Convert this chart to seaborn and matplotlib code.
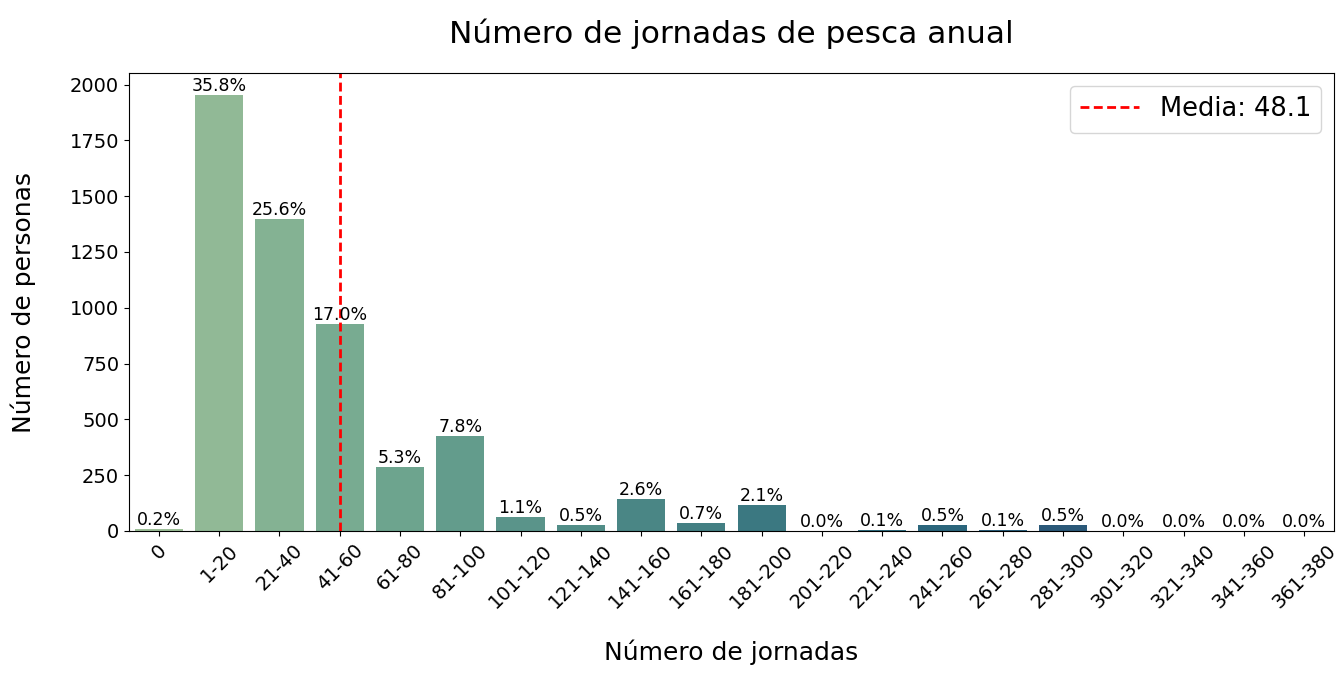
import matplotlib
matplotlib.use("Agg")
import seaborn as sns
import matplotlib.pyplot as plt
import pandas as pd

# Data
rangos = ["0", "1-20", "21-40", "41-60", "61-80", "81-100", "101-120",
          "121-140", "141-160", "161-180", "181-200", "201-220", "221-240",
          "241-260", "261-280", "281-300", "301-320", "321-340", "341-360",
          "361-380"]
personas = [10, 1955, 1398, 928, 287, 425, 62, 27, 143, 37, 115, 1, 6,
            27, 5, 28, 0, 0, 0, 0]
media = 48.1
rango_media = "41-60"


def main():
    df = pd.DataFrame({"rango": rangos, "personas": personas})
    total = df["personas"].sum()
    df["pct"] = df["personas"] / total * 100

    fig, ax = plt.subplots(figsize=(13.41, 6.73), dpi=100)
    fig.subplots_adjust(left=0.096, right=0.995, top=0.891, bottom=0.211)

    sns.barplot(data=df, x="rango", y="personas", hue="rango",
                palette="crest", legend=False, ax=ax)

    # Percentage labels on top of each bar
    for i, (h, p) in enumerate(zip(df["personas"], df["pct"])):
        ax.text(i, h, f"{p:.1f}%", ha="center", va="bottom", fontsize=12.5)

    # Mean line at the category that holds the mean
    ax.axvline(rangos.index(rango_media), color="red", linestyle="--",
               linewidth=2, dashes=(3.2, 1.6), label=f"Media: {media}")
    ax.legend(loc="upper right", fontsize=18.5, handlelength=2.3)

    ax.set_title("Número de jornadas de pesca anual", fontsize=22.5, pad=22)
    ax.set_xlabel("Número de jornadas", fontsize=18, labelpad=20)
    ax.set_ylabel("Número de personas", fontsize=18, labelpad=24)
    ax.tick_params(axis="both", labelsize=14)
    ax.tick_params(axis="x", rotation=45)
    ax.set_ylim(0, 2050)

    fig.savefig("out.png", dpi=100)


if __name__ == "__main__":
    main()
